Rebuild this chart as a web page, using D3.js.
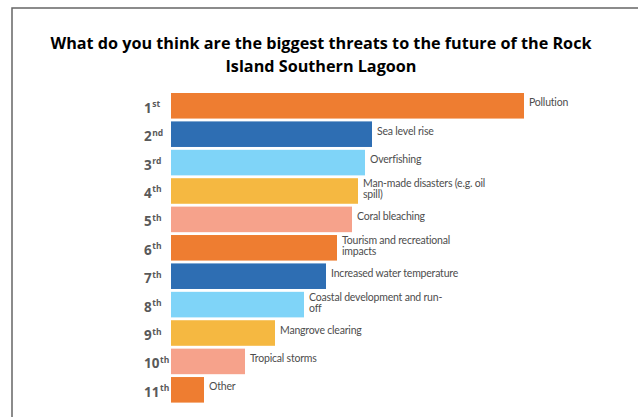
<!DOCTYPE html>
<html>
<head>
<meta charset="utf-8">
<title>Biggest threats to the Rock Island Southern Lagoon</title>
<style>
    body { margin: 0; background: #fff; }
    .title { font-family: "Open Sans", sans-serif; font-weight: bold; font-size: 16.2px; fill: #000; }
    .rank { font-family: "Open Sans", sans-serif; font-weight: bold; fill: #595959; }
    .label { font-family: Lato, sans-serif; font-size: 10.5px; fill: #4d4d4d; letter-spacing: -0.2px; }
</style>
</head>
<body>
<div id="chart"></div>
<script src="https://cdn.jsdelivr.net/npm/d3@7"></script>
<script>
// ranks, threats and relative bar lengths (no axis in the original)
const ranks = ["1", "2", "3", "4", "5", "6", "7", "8", "9", "10", "11"];
const suffixes = ["st", "nd", "rd", "th", "th", "th", "th", "th", "th", "th", "th"];
const threats = [
    ["Pollution"],
    ["Sea level rise"],
    ["Overfishing"],
    ["Man-made disasters (e.g. oil", "spill)"],
    ["Coral bleaching"],
    ["Tourism and recreational", "impacts"],
    ["Increased water temperature"],
    ["Coastal development and run-", "off"],
    ["Mangrove clearing"],
    ["Tropical storms"],
    ["Other"]
];
const scores = [353, 201, 194, 187, 181, 166, 155, 133, 104, 74, 33];
const colors = ["#EE7D31", "#2E6EB3", "#7FD4F8", "#F5B841", "#F6A28B",
                "#EE7D31", "#2E6EB3", "#7FD4F8", "#F5B841", "#F6A28B", "#EE7D31"];

const width = 638, height = 417;

const svg = d3.select("#chart").append("svg")
    .attr("width", width)
    .attr("height", height);

// frame (only top and left edges visible)
svg.append("path")
    .attr("d", `M12,417 L12,8 L638,8`)
    .attr("fill", "none")
    .attr("stroke", "#666")
    .attr("stroke-width", 1.5);

// title
const title = svg.append("text")
    .attr("class", "title")
    .attr("text-anchor", "middle");
title.append("tspan").attr("x", 321).attr("y", 49)
    .text("What do you think are the biggest threats to the future of the Rock");
title.append("tspan").attr("x", 321).attr("y", 72)
    .text("Island Southern Lagoon");

const x = d3.scaleLinear()
    .domain([0, d3.max(scores)])
    .range([171, 524]);

const y = d3.scaleBand()
    .domain(ranks)
    .range([93, 402.6])
    .paddingInner(0.1)
    .paddingOuter(0);

const rows = ranks.map((r, i) => ({
    rank: r, suffix: suffixes[i], lines: threats[i], value: scores[i], color: colors[i]
}));

svg.selectAll("rect.bar")
    .data(rows)
    .join("rect")
    .attr("class", "bar")
    .attr("x", x(0))
    .attr("y", d => y(d.rank))
    .attr("width", d => x(d.value) - x(0))
    .attr("height", y.bandwidth())
    .attr("fill", d => d.color);

// rank labels like 1st, 2nd ...
const rankText = svg.selectAll("text.rank")
    .data(rows)
    .join("text")
    .attr("class", "rank")
    .attr("x", 144)
    .attr("y", d => y(d.rank) + y.bandwidth() / 2 + 7);
rankText.append("tspan").attr("font-size", "13.5px").text(d => d.rank);
rankText.append("tspan").attr("font-size", "8.5px").attr("dx", 0.5).attr("dy", -5.5).text(d => d.suffix);

// threat labels next to bar ends
const labels = svg.selectAll("text.label")
    .data(rows)
    .join("text")
    .attr("class", "label");
labels.selectAll("tspan")
    .data(d => d.lines.map((t, j) => ({ t, j, d })))
    .join("tspan")
    .attr("x", o => x(o.d.value) + 5)
    .attr("y", o => y(o.d.rank) + y.bandwidth() / 2 + 0.5
        - (o.d.lines.length - 1) * 4.5 + o.j * 11.5)
    .text(o => o.t);
</script>
</body>
</html>
